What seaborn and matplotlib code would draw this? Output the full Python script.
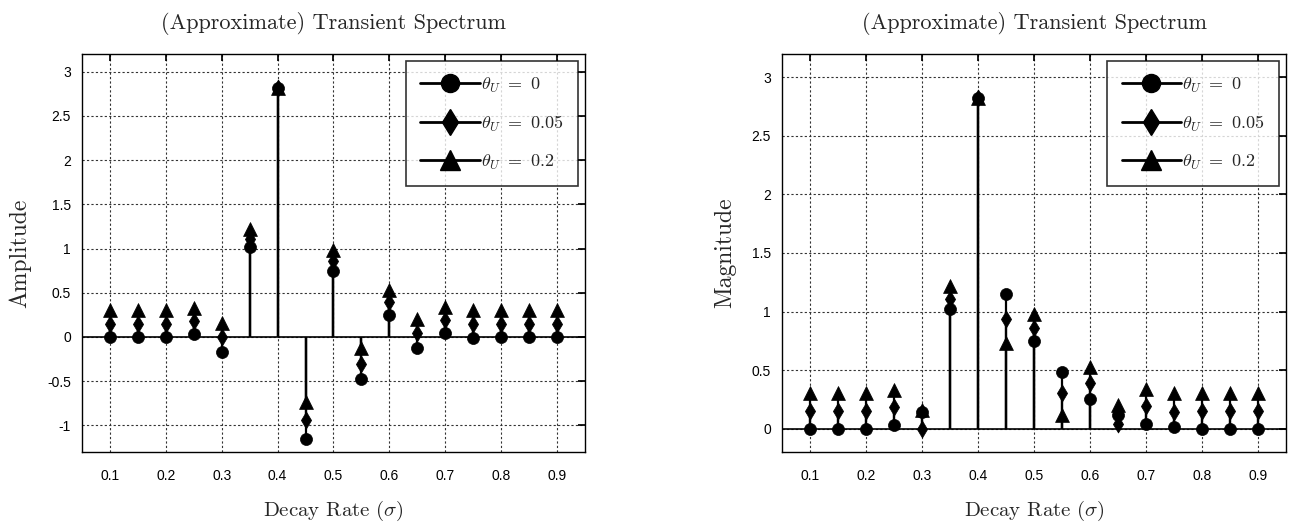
import numpy as np
import pandas as pd
import seaborn as sns
import matplotlib.pyplot as plt
from matplotlib.lines import Line2D
from matplotlib.legend_handler import HandlerLine2D

sns.set_theme(style="white")
plt.rcParams["font.family"] = ["Liberation Sans", "DejaVu Sans"]
plt.rcParams["mathtext.fontset"] = "cm"
plt.rcParams["axes.unicode_minus"] = False

# decay rates
sigma = [0.1, 0.15, 0.2, 0.25, 0.3, 0.35, 0.4, 0.45, 0.5,
         0.55, 0.6, 0.65, 0.7, 0.75, 0.8, 0.85, 0.9]

# amplitude (left panel)
amp_t0 = [0, 0, 0, 0.03, -0.17, 1.02, 2.82, -1.15, 0.75,
          -0.48, 0.25, -0.12, 0.04, -0.01, 0, 0, 0]
amp_t005 = [0.15, 0.15, 0.15, 0.18, 0.0, 1.11, 2.82, -0.94, 0.86,
            -0.30, 0.39, 0.04, 0.19, 0.145, 0.15, 0.15, 0.15]
amp_t02 = [0.3, 0.3, 0.3, 0.33, 0.16, 1.22, 2.82, -0.73, 0.98,
           -0.12, 0.53, 0.2, 0.34, 0.3, 0.3, 0.3, 0.3]

# magnitude (right panel)
mag_t0 = [0, 0, 0, 0.03, 0.14, 1.02, 2.82, 1.15, 0.75,
          0.48, 0.25, 0.12, 0.04, 0.01, 0, 0, 0]
mag_t005 = [0.15, 0.15, 0.15, 0.18, 0.0, 1.11, 2.82, 0.94, 0.86,
            0.30, 0.39, 0.04, 0.19, 0.145, 0.15, 0.15, 0.15]
mag_t02 = [0.3, 0.3, 0.3, 0.33, 0.16, 1.22, 2.82, 0.73, 0.98,
           0.12, 0.53, 0.2, 0.34, 0.3, 0.3, 0.3, 0.3]

labels = [r"$\theta_U\ =\ 0$", r"$\theta_U\ =\ 0.05$", r"$\theta_U\ =\ 0.2$"]
markers = {labels[0]: "o", labels[1]: "d", labels[2]: "^"}
sizes = {labels[0]: 75, labels[1]: 75, labels[2]: 100}


def long_form(series):
    frames = []
    for lab, vals in zip(labels, series):
        frames.append(pd.DataFrame({"sigma": sigma, "value": vals, "theta": lab}))
    return pd.concat(frames, ignore_index=True)


class EndMarkerHandler(HandlerLine2D):
    # MATLAB-style legend entry: line with marker at the right end
    def get_xdata(self, legend, xdescent, ydescent, width, height, fontsize):
        xdata = np.array([-xdescent, -xdescent + width])
        return xdata, np.array([-xdescent + width])


fig = plt.figure(figsize=(12.95, 5.29), dpi=100)
ax1 = fig.add_axes([0.0633, 0.1456, 0.3884, 0.7524])
ax2 = fig.add_axes([0.6039, 0.1456, 0.3892, 0.7524])

panels = [
    (ax1, long_form([amp_t0, amp_t005, amp_t02]), "Amplitude", (-1.3, 3.2),
     np.arange(-1, 3.01, 0.5)),
    (ax2, long_form([mag_t0, mag_t005, mag_t02]), "Magnitude", (-0.2, 3.2),
     np.arange(0, 3.01, 0.5)),
]

for ax, df, ylab, ylim, yticks in panels:
    ax.axhline(0, color="black", lw=1.2, zorder=2)
    for lab in labels:
        sub = df[df["theta"] == lab]
        ax.vlines(sub["sigma"], 0, sub["value"], color="black", lw=1.6, zorder=3)
    for lab in labels:
        sub = df[df["theta"] == lab]
        sns.scatterplot(data=sub, x="sigma", y="value", marker=markers[lab],
                        s=sizes[lab], color="black", edgecolor="black",
                        linewidth=0.5, legend=False, ax=ax, zorder=4)

    ax.set_xlim(0.05, 0.95)
    ax.set_ylim(*ylim)
    ax.set_xticks(np.arange(0.1, 0.91, 0.1))
    ax.set_xticklabels([f"{v:.1f}" for v in np.arange(0.1, 0.91, 0.1)])
    ax.set_yticks(yticks)
    ax.set_yticklabels([f"{v:g}" for v in yticks])
    ax.tick_params(direction="in", top=True, right=True, length=5,
                   labelsize=10, colors="black", pad=12)
    ax.tick_params(axis="y", pad=8)
    ax.grid(True, linestyle=(0, (2, 2)), color="#333333", lw=0.8)
    for sp in ax.spines.values():
        sp.set_color("black")
        sp.set_linewidth(1.0)

    ax.set_title("(Approximate) Transient Spectrum", fontfamily="cmr10",
                 fontsize=16, pad=18)
    ax.set_xlabel(r"Decay Rate ($\sigma$)", fontfamily="cmr10",
                  fontsize=15, labelpad=12)
    ax.set_ylabel(ylab, fontfamily="cmr10", fontsize=17, labelpad=11)

    handles = [Line2D([], [], color="black", lw=2, marker=markers[lab],
                      markersize=13 if lab != labels[2] else 15)
               for lab in labels]
    leg = ax.legend(handles, labels, loc="upper right",
                    handler_map={Line2D: EndMarkerHandler()},
                    prop={"size": 13}, frameon=True, fancybox=False,
                    handlelength=3.3, handletextpad=0.05, labelspacing=1.05,
                    borderpad=0.8, borderaxespad=0.4)
    leg.get_frame().set_edgecolor("black")
    leg.get_frame().set_linewidth(1.2)
    leg.set_zorder(10)

plt.savefig("out.png", dpi=100)
